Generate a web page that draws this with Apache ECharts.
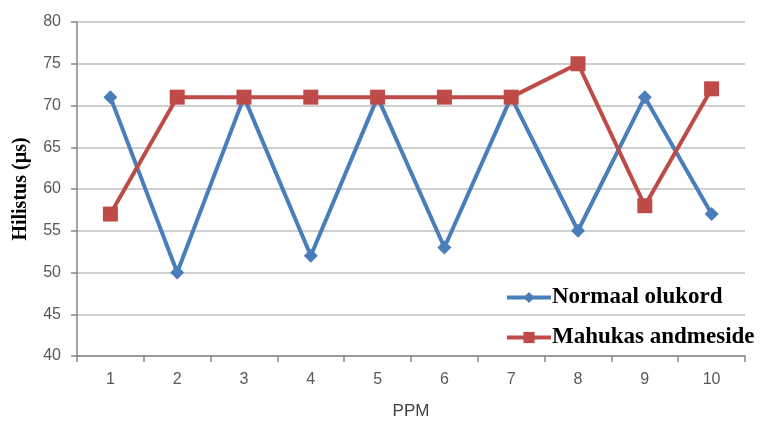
<!DOCTYPE html>
<html><head><meta charset="utf-8">
<script src="https://cdn.jsdelivr.net/npm/echarts@6/dist/echarts.min.js"></script>
<style>html,body{margin:0;padding:0;background:#fff}#c{width:760px;height:425px}</style>
</head><body><div id="c"></div>
<script>
const categories = ['1','2','3','4','5','6','7','8','9','10'];
const normaal = [71, 50, 71, 52, 71, 53, 71, 55, 71, 57];
const mahukas = [57, 71, 71, 71, 71, 71, 71, 75, 58, 72];
const seriesNames = ['Normaal olukord', 'Mahukas andmeside'];
const yTitle = 'Hilistus (µs)';
const xTitle = 'PPM';

const chart = echarts.init(document.getElementById('c'), null, {renderer:'canvas'});
chart.setOption({
  animation: false,
  backgroundColor: '#fff',
  grid: {left: 77, right: 15, top: 22, bottom: 67},
  legend: {
    orient: 'vertical', left: 500, top: 281, itemGap: 17,
    itemWidth: 44, itemHeight: 14,
    lineStyle: {width: 4},
    textStyle: {fontFamily: 'Liberation Serif', fontWeight: 'bold', fontSize: 23, color: '#000', padding: [0,0,0,-4]},
    data: seriesNames
  },
  xAxis: {
    type: 'category', data: categories, boundaryGap: true,
    name: xTitle, nameLocation: 'middle', nameGap: 47,
    nameTextStyle: {fontFamily: 'Liberation Sans', fontSize: 17, color: '#404040'},
    axisLine: {lineStyle: {color: '#868686', width: 1.5}},
    axisTick: {show: true, length: 6, lineStyle: {color: '#868686', width: 1.5}},
    axisLabel: {fontFamily: 'Liberation Sans', fontSize: 16, color: '#595959', margin: 16}
  },
  yAxis: {
    type: 'value', min: 40, max: 80, interval: 5,
    name: yTitle, nameLocation: 'middle', nameGap: 46, nameRotate: 90,
    nameTextStyle: {fontFamily: 'Liberation Serif', fontWeight: 'bold', fontSize: 20, color: '#000'},
    axisLine: {show: true, lineStyle: {color: '#868686', width: 1.5}},
    axisTick: {show: true, length: 6, lineStyle: {color: '#868686', width: 1.5}},
    axisLabel: {fontFamily: 'Liberation Sans', fontSize: 16, color: '#595959', margin: 16},
    splitLine: {lineStyle: {color: '#bfbfbf', width: 1.5}}
  },
  series: [
    {name: seriesNames[0], type: 'line', data: normaal, symbol: 'diamond', symbolSize: 14,
     lineStyle: {color: '#4a7ebb', width: 4}, itemStyle: {color: '#4a7ebb'}},
    {name: seriesNames[1], type: 'line', data: mahukas, symbol: 'rect', symbolSize: 15,
     lineStyle: {color: '#be4b48', width: 4}, itemStyle: {color: '#be4b48'}}
  ]
});
</script></body></html>
